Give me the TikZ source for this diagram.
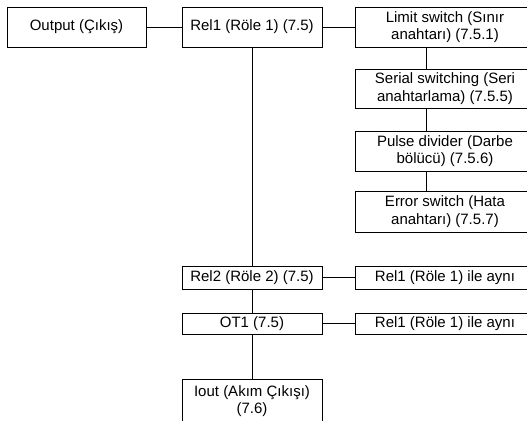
\documentclass[tikz,border=0pt]{standalone}
\usepackage{fontspec}
\setmainfont{Liberation Sans}
\usetikzlibrary{positioning,calc}

\begin{document}
\begin{tikzpicture}[x=1pt,y=-1pt,
         menubox/.style = {draw,line width=0.8pt,inner sep=0pt,align=center,
            font=\fontsize{15}{17.5}\selectfont,minimum width=140pt},
         subbox/.style = {menubox,minimum width=180pt},
         link/.style = {line width=0.8pt}
]
      \useasboundingbox (0,0) rectangle (527,420);
      \node[menubox,minimum width=139pt,minimum height=40pt] (out) at (76.5,27) {Output (Çıkış)};
      \node[menubox,minimum height=40pt] (rel1) at (252,27) {Rel1 (Röle 1) (7.5)};
      \node[menubox,minimum height=23pt] (rel2) at (252,277.5) {Rel2 (Röle 2) (7.5)};
      \node[menubox,minimum height=21pt] (ot1) at (252,323.5) {OT1 (7.5)};
      \node[menubox,minimum height=44pt] (iout) at (252,401) {Iout (Akım Çıkışı)\\(7.6)};

      % right column
      \node[subbox,minimum height=40pt] (lim) at (445,27) {Limit switch (Sınır\\anahtarı) (7.5.1)};
      \node[subbox,minimum height=39pt] (ser) at (445,88.5) {Serial switching (Seri\\anahtarlama) (7.5.5)};
      \node[subbox,minimum height=40pt] (pul) at (445,151) {Pulse divider (Darbe\\bölücü) (7.5.6)};
      \node[subbox,minimum height=41pt] (err) at (445,211.5) {Error switch (Hata\\anahtarı) (7.5.7)};
      \node[subbox,minimum height=23pt] (same1) at (445,277.5) {Rel1 (Röle 1) ile aynı};
      \node[subbox,minimum height=21pt] (same2) at (445,323.5) {Rel1 (Röle 1) ile aynı};

      \draw[link] (out) -- (rel1);
      \draw[link] (rel1) -- (lim);
      \draw[link] (rel2) -- (same1);
      \draw[link] (ot1) -- (same2);
      \draw[link] (rel1) -- (rel2) -- (ot1) -- (iout);
      \draw[link] ([xshift=-19pt]lim.south) -- ([xshift=-19pt]ser.north);
      \draw[link] ([xshift=-19pt]ser.south) -- ([xshift=-19pt]pul.north);
      \draw[link] ([xshift=-19pt]pul.south) -- ([xshift=-19pt]err.north);
\end{tikzpicture}
\end{document}
